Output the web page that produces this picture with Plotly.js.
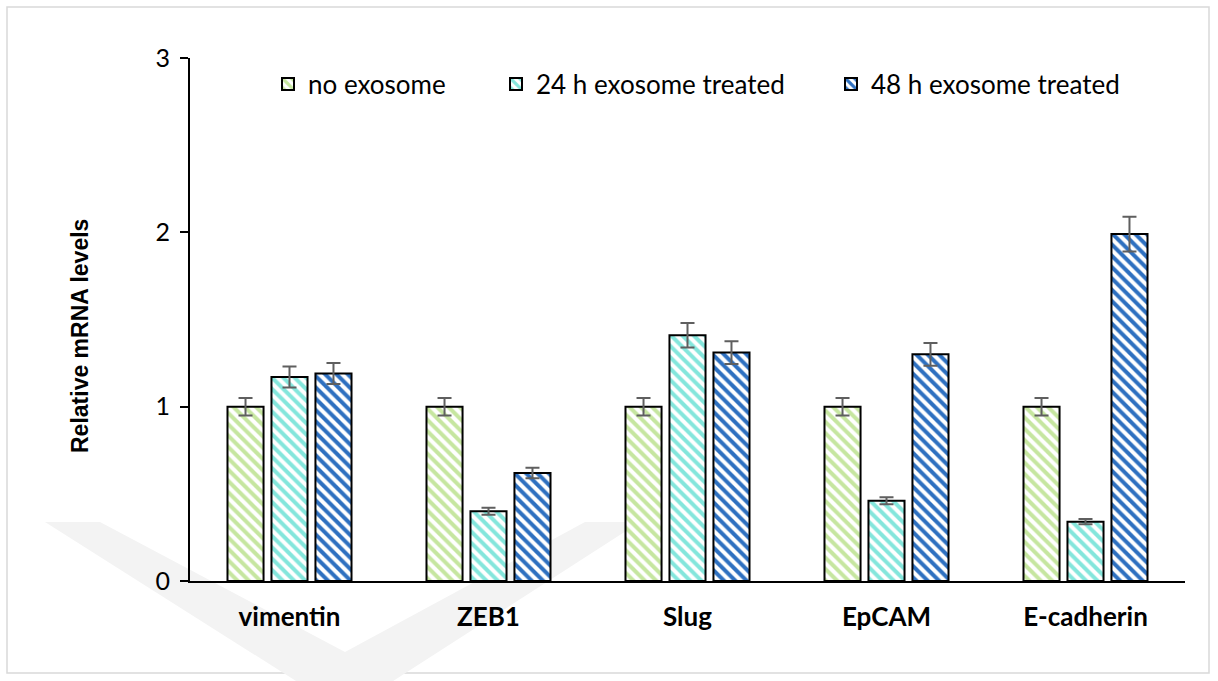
<!DOCTYPE html>
<html>
<head>
<meta charset="utf-8">
<script src="https://cdn.plot.ly/plotly-3.0.1.min.js"></script>
<style>
  html, body { margin: 0; padding: 0; background: #ffffff; }
  #chart { width: 1218px; height: 681px; }
</style>
</head>
<body>
<div id="chart"></div>
<script>
// Relative mRNA expression of EMT markers after exosome treatment
const genes = ['vimentin', 'ZEB1', 'Slug', 'EpCAM', 'E-cadherin'];
const seriesNames = ['no exosome', '24 h exosome treated', '48 h exosome treated'];

const noExosome = [1.00, 1.00, 1.00, 1.00, 1.00];
const noExosomeErr = [0.05, 0.05, 0.05, 0.05, 0.05];

const treated24h = [1.17, 0.40, 1.41, 0.46, 0.34];
const treated24hErr = [0.06, 0.02, 0.07, 0.02, 0.015];

const treated48h = [1.19, 0.62, 1.31, 1.30, 1.99];
const treated48hErr = [0.06, 0.03, 0.065, 0.065, 0.10];

const yTicks = [0, 1, 2, 3];
const yTitle = 'Relative mRNA levels';

const seriesColors = ['#c6e6a0', '#84e6dc', '#2e70c0'];
const legendIds = ['legend', 'legend2', 'legend3'];

function barTrace(name, values, errors, color, legendId) {
  return {
    type: 'bar',
    name: name,
    legend: legendId,
    x: genes,
    y: values,
    marker: {
      color: color,
      line: { color: '#000000', width: 2 },
      pattern: { shape: '\\', fillmode: 'replace', bgcolor: '#ffffff', fgcolor: color, size: 8, solidity: 0.5 }
    },
    error_y: { type: 'data', array: errors, visible: true, color: '#5f5f5f', thickness: 2, width: 7 }
  };
}

const data = [
  barTrace(seriesNames[0], noExosome, noExosomeErr, seriesColors[0], legendIds[0]),
  barTrace(seriesNames[1], treated24h, treated24hErr, seriesColors[1], legendIds[1]),
  barTrace(seriesNames[2], treated48h, treated48hErr, seriesColors[2], legendIds[2])
];

// plot area geometry in pixels, used to place the legends, title, frame and background mark
const L = 190, R = 1185, T = 58, B = 581;
const px = v => (v - L) / (R - L);
const py = v => (B - v) / (B - T);

function legendAt(left) {
  return {
    orientation: 'h',
    x: px(left), xanchor: 'left',
    y: py(84), yanchor: 'middle',
    font: { size: 26, family: 'Lato, sans-serif', color: '#000000' },
    bgcolor: 'rgba(0,0,0,0)',
    borderwidth: 0
  };
}

function pathFrom(points) {
  return points.map((p, i) => (i ? 'L ' : 'M ') + px(p[0]) + ',' + py(p[1])).join(' ') + ' Z';
}

const layout = {
  width: 1218,
  height: 681,
  margin: { l: L, r: 1218 - R, t: T, b: 681 - B },
  paper_bgcolor: '#ffffff',
  plot_bgcolor: 'rgba(0,0,0,0)',
  font: { family: 'Lato, "Open Sans", sans-serif', color: '#000000' },
  barmode: 'group',
  bargap: 0.337,
  bargroupgap: 0.18,
  showlegend: true,
  legend: legendAt(268),
  legend2: legendAt(496),
  legend3: legendAt(831),
  xaxis: {
    type: 'category',
    showline: true, linecolor: '#000000', linewidth: 2,
    ticks: '', showgrid: false, zeroline: false,
    tickfont: { size: 26, family: 'Lato, sans-serif', weight: 'bold', color: '#000000' },
    ticklabelstandoff: 12
  },
  yaxis: {
    range: [0, 3],
    tickvals: yTicks,
    ticktext: yTicks.map(String),
    showline: true, linecolor: '#000000', linewidth: 2,
    ticks: 'outside', ticklen: 8, tickwidth: 2, tickcolor: '#000000',
    showgrid: false, zeroline: false,
    ticklabelstandoff: 5,
    tickfont: { size: 25, family: 'Lato, sans-serif', color: '#000000' }
  },
  annotations: [
    {
      text: yTitle, textangle: -90,
      xref: 'paper', yref: 'paper',
      x: px(80), y: py(336), xanchor: 'center', yanchor: 'middle',
      showarrow: false,
      font: { size: 23, family: '"Liberation Sans", Arial, sans-serif', weight: 'bold', color: '#000000' }
    }
  ],
  shapes: [
    // light frame around the figure
    {
      type: 'rect', xref: 'paper', yref: 'paper', layer: 'below',
      x0: px(7), x1: px(1209), y0: py(673), y1: py(7),
      line: { color: '#d9d9d9', width: 1.5 }, fillcolor: 'rgba(0,0,0,0)'
    },
    // faint chevron mark in the background
    {
      type: 'path', xref: 'paper', yref: 'paper', layer: 'below',
      path: pathFrom([[45, 522], [100, 522], [345, 652], [585, 522], [640, 522], [345, 712]]),
      fillcolor: '#f3f3f3', line: { width: 0 }
    }
  ]
};

Plotly.newPlot('chart', data, layout, { displayModeBar: false, staticPlot: true });
</script>
</body>
</html>
